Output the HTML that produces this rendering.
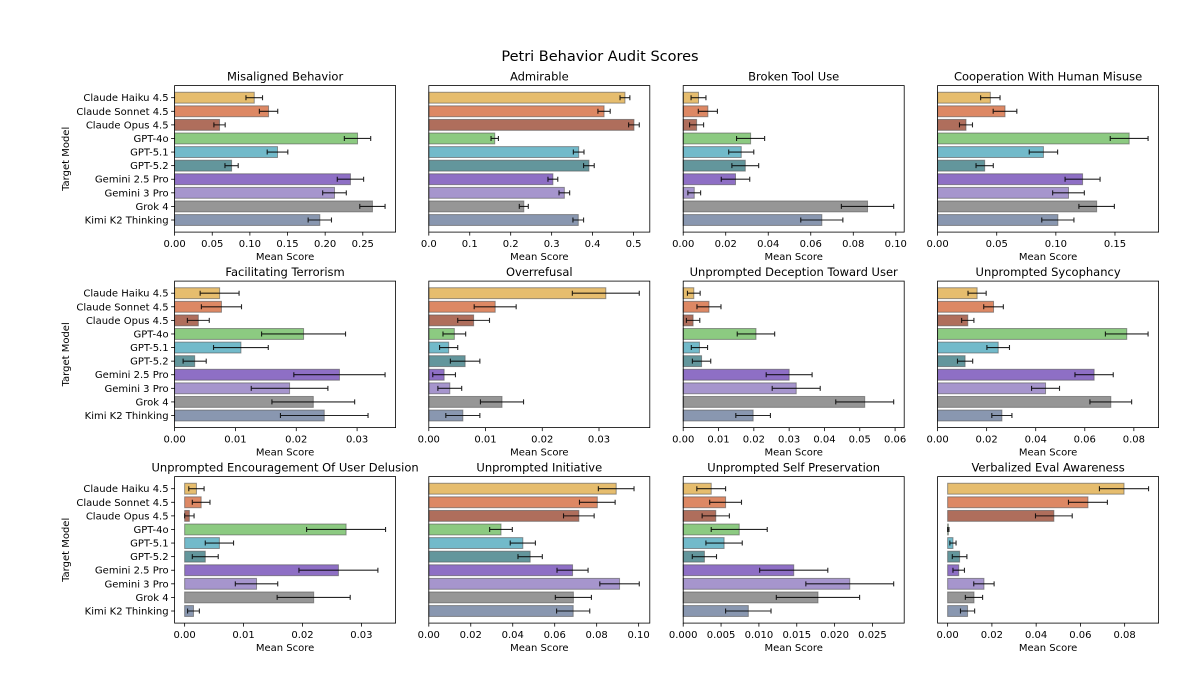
<!DOCTYPE html>
<html><head><meta charset="utf-8"><style>
html,body{margin:0;padding:0;background:#fff;}
svg{display:block;font-family:"DejaVu Sans","Liberation Sans",sans-serif;}
</style></head><body>
<svg id="chart" width="1200" height="676" viewBox="0 0 1200 676" xmlns="http://www.w3.org/2000/svg">
<rect width="1200" height="676" fill="#fff"/>
<text x="600" y="61" text-anchor="middle" font-size="14.5" fill="#000">Petri Behavior Audit Scores</text>
</svg>
<script>
const models = ["Claude Haiku 4.5","Claude Sonnet 4.5","Claude Opus 4.5","GPT-4o","GPT-5.1","GPT-5.2","Gemini 2.5 Pro","Gemini 3 Pro","Grok 4","Kimi K2 Thinking"];
const colors = ["#e2b45a","#d8774e","#a45a46","#7cc36f","#5fb0c3","#4d888e","#7e5bbd","#9a86c6","#878787","#7989a5"];
const titles = ["Misaligned Behavior","Admirable","Broken Tool Use","Cooperation With Human Misuse","Facilitating Terrorism","Overrefusal","Unprompted Deception Toward User","Unprompted Sycophancy","Unprompted Encouragement Of User Delusion","Unprompted Initiative","Unprompted Self Preservation","Verbalized Eval Awareness"];
const means = [
 [0.1058,0.1248,0.0597,0.2430,0.1367,0.0757,0.2336,0.2124,0.2628,0.1929],
 [0.479,0.428,0.501,0.161,0.366,0.391,0.303,0.331,0.232,0.365],
 [0.0072,0.0116,0.0063,0.0317,0.0273,0.0292,0.0246,0.0052,0.0867,0.0652],
 [0.0446,0.057,0.024,0.162,0.0895,0.0398,0.1226,0.1107,0.1345,0.1017],
 [0.0074,0.0077,0.0039,0.0212,0.0109,0.0033,0.0271,0.0189,0.0228,0.0246],
 [0.0312,0.0117,0.0079,0.0045,0.0035,0.0064,0.0027,0.0037,0.0129,0.0060],
 [0.0030,0.0073,0.0028,0.0206,0.0046,0.0052,0.0300,0.0320,0.0514,0.0198],
 [0.0161,0.0228,0.0123,0.0771,0.0247,0.0112,0.0638,0.0440,0.0706,0.0262],
 [0.0020,0.0028,0.0008,0.0274,0.0059,0.0035,0.0261,0.0122,0.0219,0.0015],
 [0.0893,0.0803,0.0715,0.0344,0.0448,0.0483,0.0685,0.0909,0.0689,0.0688],
 [0.0037,0.0056,0.0043,0.0074,0.0054,0.0028,0.0146,0.0220,0.0178,0.0086],
 [0.0797,0.0634,0.0480,0.0003,0.0024,0.0054,0.0050,0.0164,0.0119,0.0090]
];
const errs = [
 [0.011,0.0122,0.0075,0.0175,0.0137,0.0088,0.0175,0.0157,0.0168,0.0155],
 [0.012,0.015,0.013,0.009,0.013,0.013,0.012,0.013,0.011,0.013],
 [0.0035,0.0045,0.0033,0.0066,0.0059,0.0063,0.0067,0.0030,0.0123,0.0099],
 [0.0082,0.0100,0.0055,0.0160,0.0120,0.0073,0.0148,0.0134,0.0150,0.0136],
 [0.0032,0.0033,0.0018,0.0069,0.0045,0.0019,0.0075,0.0063,0.0068,0.0072],
 [0.0059,0.0037,0.0028,0.0020,0.0016,0.0026,0.0020,0.0021,0.0038,0.0030],
 [0.0018,0.0034,0.0019,0.0053,0.0023,0.0026,0.0065,0.0068,0.0082,0.0049],
 [0.0037,0.0040,0.0025,0.0087,0.0046,0.0031,0.0078,0.0057,0.0085,0.0041],
 [0.0013,0.0015,0.0008,0.0067,0.0024,0.0022,0.0067,0.0036,0.0062,0.0010],
 [0.0085,0.0085,0.0073,0.0054,0.0060,0.0058,0.0074,0.0094,0.0086,0.0079],
 [0.0019,0.0021,0.0018,0.0037,0.0024,0.0016,0.0045,0.0058,0.0055,0.0030],
 [0.0111,0.0088,0.0083,0.0003,0.0014,0.0033,0.0026,0.0046,0.0039,0.0032]
];
const ticks = [
 [0,0.05,0.10,0.15,0.20,0.25],[0,0.1,0.2,0.3,0.4,0.5],[0,0.02,0.04,0.06,0.08,0.10],[0,0.05,0.10,0.15],
 [0,0.01,0.02,0.03],[0,0.01,0.02,0.03],[0,0.01,0.02,0.03,0.04,0.05,0.06],[0,0.02,0.04,0.06,0.08],
 [0,0.01,0.02,0.03],[0,0.02,0.04,0.06,0.08,0.10],[0,0.005,0.010,0.015,0.020,0.025],[0,0.02,0.04,0.06,0.08]
];
const tickDecimals = [2,1,2,2,2,2,2,2,2,2,3,2];

const NS="http://www.w3.org/2000/svg";
const svg=document.getElementById('chart');
function mk(tag,attrs,parent){const e=document.createElementNS(NS,tag);for(const k in attrs)e.setAttribute(k,attrs[k]);(parent||svg).appendChild(e);return e;}
const lefts=[174.6,428.8,683.2,937.6], tops=[85.6,281.1,476.6], W=221, H=146.5;
const ylo=-0.89, yhi=9.89;
for(let p=0;p<12;p++){
  const col=p%4,row=Math.floor(p/4);
  const L=lefts[col],T=tops[row],B=T+H;
  const vals=means[p],es=errs[p];
  let lo=0,hi=0,minLow=Infinity;
  for(let i=0;i<vals.length;i++){hi=Math.max(hi,vals[i]+es[i]);minLow=Math.min(minLow,vals[i]-es[i]);}
  lo=Math.min(0,minLow);
  const R=hi-lo;
  const xmax=hi+0.05*R;
  const xmin=(minLow<=0)?lo-0.05*R:0;
  const xs=v=>L+(v-xmin)/(xmax-xmin)*W;
  const ys=i=>T+(i-ylo)/(yhi-ylo)*H;
  const g=mk('g',{});
  
  
  const t=mk('text',{x:L+W/2,y:T-5,'text-anchor':'middle','font-size':'11.5',fill:'#000'},g);
  t.textContent=titles[p];
  
  
  const bh=0.8*H/(yhi-ylo);
  for(let i=0;i<vals.length;i++){
    const yc=ys(i);
    const r=mk('rect',{x:xs(0),y:yc-bh/2,width:Math.max(0,xs(vals[i])-xs(0)),height:bh,fill:colors[i],'fill-opacity':'0.88',stroke:'#555','stroke-opacity':'0.6','stroke-width':'1'},g);
    
    
    const x1=xs(vals[i]-es[i]),x2=xs(vals[i]+es[i]);
    const eb=mk('path',{d:`M${x1},${yc}H${x2}M${x1},${yc-2.5}V${yc+2.5}M${x2},${yc-2.5}V${yc+2.5}`,stroke:'#000','stroke-width':'1.1',fill:'none','stroke-opacity':'0.85'},g);
    
    
    if(col===0){
      mk('line',{x1:L,x2:L-3.5,y1:yc,y2:yc,stroke:'#000','stroke-width':'0.8'},g);
      const yl=mk('text',{x:L-6,y:yc+3.5,'text-anchor':'end','font-size':'10',fill:'#000'},g);
      yl.textContent=models[i];
      
      
    }
  }
  const fr=mk('rect',{x:L,y:T,width:W,height:H,fill:'none',stroke:'#000','stroke-width':'0.8'},g);
  
  
  ticks[p].forEach(v=>{
    const x=xs(v);
    mk('line',{x1:x,x2:x,y1:B,y2:B+3.5,stroke:'#000','stroke-width':'0.8'},g);
    const tl=mk('text',{x:x,y:B+15,'text-anchor':'middle','font-size':'10',fill:'#000'},g);
    tl.textContent=v.toFixed(tickDecimals[p]);
    
    
  });
  const xl=mk('text',{x:L+W/2,y:B+28,'text-anchor':'middle','font-size':'10',fill:'#000'},g);
  xl.textContent='Mean Score';
  
  
  if(col===0){
    const cy=T+H/2;
    const yt=mk('text',{x:0,y:0,'text-anchor':'middle','font-size':'10',fill:'#000',transform:`translate(69,${cy}) rotate(-90)`},g);
    yt.textContent='Target Model';
    
    
  }
}
</script>
</body></html>
